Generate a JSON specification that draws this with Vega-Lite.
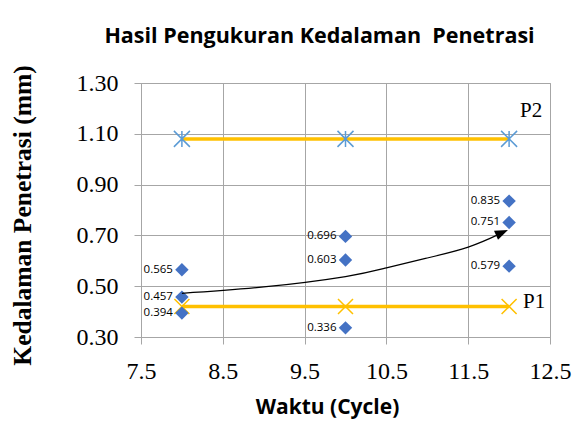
{
  "$schema": "https://vega.github.io/schema/vega-lite/v6.json",
  "autosize": {"type": "none"},
  "padding": {"left": 141, "top": 83, "right": 38, "bottom": 87},
  "width": 409,
  "height": 254,
  "background": "white",
  "title": {
    "text": "Hasil Pengukuran Kedalaman\u00a0 Penetrasi",
    "font": "Open Sans",
    "fontSize": 21.5,
    "fontWeight": "bold",
    "color": "black",
    "anchor": "middle",
    "baseline": "alphabetic",
    "dx": -26,
    "offset": 0
  },
  "datasets": {
    "pts": [
      {"x": 8, "y": 0.565, "label": "0.565"},
      {"x": 8, "y": 0.457, "label": "0.457"},
      {"x": 8, "y": 0.394, "label": "0.394"},
      {"x": 10, "y": 0.696, "label": "0.696"},
      {"x": 10, "y": 0.603, "label": "0.603"},
      {"x": 10, "y": 0.336, "label": "0.336"},
      {"x": 12, "y": 0.835, "label": "0.835"},
      {"x": 12, "y": 0.751, "label": "0.751"},
      {"x": 12, "y": 0.579, "label": "0.579"}
    ],
    "lines": [
      {"series": "P2", "x": 8, "y": 1.08},
      {"series": "P2", "x": 10, "y": 1.08},
      {"series": "P2", "x": 12, "y": 1.08},
      {"series": "P1", "x": 8, "y": 0.42},
      {"series": "P1", "x": 10, "y": 0.42},
      {"series": "P1", "x": 12, "y": 0.42}
    ],
    "arrow": [
      {"x": 8.0, "y": 0.472},
      {"x": 9.0, "y": 0.497},
      {"x": 10.0, "y": 0.538},
      {"x": 10.5, "y": 0.572},
      {"x": 11.0, "y": 0.611},
      {"x": 11.5, "y": 0.654},
      {"x": 11.88, "y": 0.705}
    ],
    "head": [{"x": 11.913, "y": 0.711}],
    "plabels": [
      {"x": 12, "y": 1.165, "text": "P2"},
      {"x": 12, "y": 0.414, "text": "P1"}
    ]
  },
  "encoding": {
    "x": {
      "field": "x",
      "type": "quantitative",
      "scale": {"domain": [7.5, 12.5], "nice": false, "zero": false},
      "axis": {
        "values": [7.5, 8.5, 9.5, 10.5, 11.5, 12.5],
        "format": ".1f",
        "title": "Waktu (Cycle)",
        "titleFont": "Open Sans",
        "titleFontSize": 21,
        "titleFontWeight": "bold",
        "titleColor": "black",
        "titleX": 186,
        "titleY": 76,
        "titleBaseline": "alphabetic",
        "labelFont": "Liberation Serif",
        "labelFontSize": 24,
        "labelColor": "black",
        "labelBaseline": "alphabetic",
        "labelPadding": 34,
        "labelFlush": false,
        "labelOverlap": false
      }
    },
    "y": {
      "field": "y",
      "type": "quantitative",
      "scale": {"domain": [0.3, 1.3], "nice": false, "zero": false},
      "axis": {
        "values": [0.3, 0.5, 0.7, 0.9, 1.1, 1.3],
        "format": ".2f",
        "title": "Kedalaman Penetrasi (mm)",
        "titleFont": "Liberation Serif",
        "titleFontSize": 25.5,
        "titleFontWeight": "bold",
        "titleColor": "black",
        "titleX": -119,
        "titleY": 132,
        "titleBaseline": "middle",
        "titleAngle": -90,
        "labelFont": "Liberation Serif",
        "labelFontSize": 24,
        "labelColor": "black",
        "labelPadding": 16,
        "labelFlush": false,
        "labelOverlap": false
      }
    }
  },
  "layer": [
    {
      "data": {"name": "lines"},
      "mark": {"type": "line", "color": "#ffc000", "strokeWidth": 3.5},
      "encoding": {"detail": {"field": "series"}}
    },
    {
      "data": {"name": "lines"},
      "transform": [{"filter": "datum.series == 'P2'"}],
      "mark": {"type": "point", "shape": "M-1,-1L1,1M-1,1L1,-1M0,-1L0,1", "filled": false, "stroke": "#5b9bd5", "strokeWidth": 1.5, "size": 256, "opacity": 1},
      "encoding": {}
    },
    {
      "data": {"name": "lines"},
      "transform": [{"filter": "datum.series == 'P1'"}],
      "mark": {"type": "point", "shape": "M-1,-1L1,1M-1,1L1,-1", "filled": false, "stroke": "#ffc000", "strokeWidth": 1.5, "size": 225, "opacity": 1},
      "encoding": {}
    },
    {
      "data": {"name": "pts"},
      "mark": {"type": "point", "shape": "diamond", "filled": true, "color": "#4472c4", "size": 180, "opacity": 1},
      "encoding": {}
    },
    {
      "data": {"name": "arrow"},
      "mark": {"type": "line", "color": "black", "strokeWidth": 1.2, "interpolate": "natural"},
      "encoding": {}
    },
    {
      "data": {"name": "head"},
      "mark": {"type": "point", "shape": "M-1,-0.75L1,0L-1,0.75Z", "filled": true, "color": "black", "size": 170, "angle": 336, "opacity": 1},
      "encoding": {}
    },
    {
      "data": {"name": "pts"},
      "mark": {"type": "text", "align": "right", "baseline": "middle", "dx": -9, "font": "Open Sans", "fontSize": 11.5, "color": "black"},
      "encoding": {"text": {"field": "label"}}
    },
    {
      "data": {"name": "plabels"},
      "transform": [{"filter": "datum.text == 'P2'"}],
      "mark": {"type": "text", "align": "left", "baseline": "alphabetic", "dx": 11, "font": "Liberation Serif", "fontSize": 21, "color": "black"},
      "encoding": {"text": {"field": "text"}}
    },
    {
      "data": {"name": "plabels"},
      "transform": [{"filter": "datum.text == 'P1'"}],
      "mark": {"type": "text", "align": "left", "baseline": "alphabetic", "dx": 14, "font": "Liberation Serif", "fontSize": 21, "color": "black"},
      "encoding": {"text": {"field": "text"}}
    }
  ],
  "config": {
    "view": {"stroke": "#a6a6a6", "strokeWidth": 1},
    "axis": {
      "gridColor": "#a6a6a6",
      "gridWidth": 1,
      "gridOpacity": 1,
      "domainColor": "#a6a6a6",
      "tickColor": "#a6a6a6",
      "tickSize": 7
    }
  }
}
